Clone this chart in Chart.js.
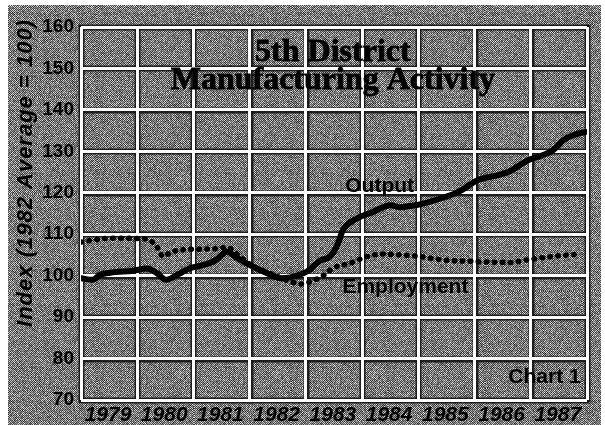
<!DOCTYPE html>
<html><head><meta charset="utf-8">
<script src="https://cdn.jsdelivr.net/npm/chart.js@4"></script>
<style>html,body{margin:0;padding:0;background:#fff}canvas{display:block}</style>
</head><body>
<canvas id="c" width="605" height="425"></canvas>
<script>
const yearLabels = ['1979','1980','1981','1982','1983','1984','1985','1986','1987'];
const yTicks = [70, 80, 90, 100, 110, 120, 130, 140, 150, 160];

const outputYears = [1979.00,1979.20,1979.34,1979.52,1979.93,1980.17,1980.35,1980.51,1980.71,1980.94,
  1981.15,1981.38,1981.60,1981.74,1981.86,1982.06,1982.31,1982.54,1982.72,1983.02,
  1983.25,1983.43,1983.56,1983.66,1983.91,1984.20,1984.50,1984.68,1984.85,1985.03,
  1985.44,1985.74,1986.05,1986.40,1986.63,1986.94,1987.22,1987.40,1987.58,1987.75,1987.97];
const outputValues = [99.4,99.0,100.2,100.7,101.2,101.7,100.6,99.0,100.2,101.8,
  102.5,103.6,105.8,104.6,103.6,102.2,100.6,99.4,99.6,101.0,
  103.6,104.6,107.4,111.0,113.8,115.4,117.0,116.5,116.8,117.2,
  118.8,120.4,123.0,124.2,125.2,127.8,129.1,130.3,132.7,133.9,134.7];

const employmentYears = [1979.00,1979.21,1979.52,1979.93,1980.17,1980.26,1980.35,1980.46,1980.58,1980.76,
  1981.12,1981.38,1981.60,1981.79,1982.06,1982.42,1982.72,1982.90,1983.07,1983.31,
  1983.48,1983.79,1984.09,1984.37,1984.68,1984.98,1985.44,1986.05,1986.63,1986.94,1987.35,1987.88];
const employmentValues = [108.1,108.6,109.0,109.0,108.8,108.2,107.0,104.6,105.5,106.2,
  106.4,106.5,106.8,105.0,102.2,100.2,98.6,98.0,98.5,100.0,
  101.8,103.0,104.6,105.2,105.0,104.7,103.8,103.4,103.2,103.8,104.6,105.2];

const titleLines = ['5th District', 'Manufacturing Activity'];
const yAxisTitle = 'Index (1982 Average = 100)';
const seriesLabels = ['Output', 'Employment'];
const chartNote = 'Chart 1';

function makeTexture() {
  const n = 97;
  const p = document.createElement('canvas'); p.width = n; p.height = n;
  const g = p.getContext('2d');
  const img = g.createImageData(n, n);
  for (let j = 0; j < n; j++) {
    for (let i = 0; i < n; i++) {
      let h = Math.sin(i * 12.9898 + j * 78.233) * 43758.5453;
      h = h - Math.floor(h);
      const dark = ((i + j) & 1) === 0;
      const v = dark ? 35 + h * 70 : 120 + h * 110;
      const k = (j * n + i) * 4;
      img.data[k] = img.data[k + 1] = img.data[k + 2] = v;
      img.data[k + 3] = 255;
    }
  }
  g.putImageData(img, 0, 0);
  return p;
}
const tex = makeTexture();

const decor = {
  id: 'decor',
  beforeDraw(chart) {
    const ctx = chart.ctx;
    ctx.save();
    ctx.fillStyle = '#fff';
    ctx.fillRect(0, 0, chart.width, chart.height);
    ctx.fillStyle = ctx.createPattern(tex, 'repeat');
    ctx.fillRect(8, 5, 593, 420);
    const xs = chart.scales.x, ys = chart.scales.y;
    const a = chart.chartArea;
    ctx.strokeStyle = 'rgba(20,20,20,0.9)';
    ctx.lineWidth = 6;
    for (let v = 1979; v <= 1988; v++) {
      const px = Math.round(xs.getPixelForValue(v)) + 0.5;
      ctx.beginPath(); ctx.moveTo(px, a.top - 2); ctx.lineTo(px, a.bottom + 2); ctx.stroke();
    }
    yTicks.forEach(v => {
      const py = Math.round(ys.getPixelForValue(v)) + 0.5;
      ctx.beginPath(); ctx.moveTo(a.left - 2, py); ctx.lineTo(a.right + 2, py); ctx.stroke();
    });
    ctx.restore();
  },
  afterDatasetsDraw(chart) {
    const ctx = chart.ctx;
    const xs = chart.scales.x, ys = chart.scales.y;
    ctx.save();
    ctx.fillStyle = '#000';
    ctx.strokeStyle = '#000';
    ctx.textBaseline = 'alphabetic';
    // title
    ctx.font = 'bold 32px "Liberation Serif", "Times New Roman", serif';
    ctx.textAlign = 'center';
    ctx.lineWidth = 0.8;
    const tx = xs.getPixelForValue(1983.48);
    [[titleLines[0], 151.7], [titleLines[1], 145.0]].forEach(([t, v]) => {
      ctx.fillText(t, tx, ys.getPixelForValue(v));
      ctx.strokeText(t, tx, ys.getPixelForValue(v));
    });
    // series labels
    ctx.font = 'bold 21px "Liberation Sans", Arial, sans-serif';
    ctx.textAlign = 'left';
    ctx.fillText(seriesLabels[0], xs.getPixelForValue(1983.70), ys.getPixelForValue(120.2));
    ctx.textAlign = 'center';
    ctx.fillText(seriesLabels[1], xs.getPixelForValue(1984.77), ys.getPixelForValue(95.8));
    ctx.textAlign = 'left';
    ctx.fillText(chartNote, xs.getPixelForValue(1986.6), ys.getPixelForValue(74.1));
    // y axis title
    ctx.translate(32, 173);
    ctx.rotate(-Math.PI / 2);
    ctx.font = 'italic bold 22px "Liberation Sans", Arial, sans-serif';
    ctx.letterSpacing = '1px';
    ctx.textAlign = 'center';
    ctx.fillText(yAxisTitle, 0, 0);
    ctx.restore();
  }
};

new Chart(document.getElementById('c'), {
  type: 'line',
  data: {
    datasets: [
      {
        label: seriesLabels[0],
        data: outputYears.map((x, i) => ({ x, y: outputValues[i] })),
        borderColor: '#000',
        borderWidth: 6,
        pointRadius: 0,
        cubicInterpolationMode: 'monotone',
        borderCapStyle: 'round',
        borderJoinStyle: 'round'
      },
      {
        label: seriesLabels[1],
        data: employmentYears.map((x, i) => ({ x, y: employmentValues[i] })),
        borderColor: '#000',
        borderWidth: 5.5,
        borderDash: [0.5, 7.5],
        borderCapStyle: 'round',
        pointRadius: 0,
        cubicInterpolationMode: 'monotone'
      }
    ]
  },
  options: {
    responsive: false,
    animation: false,
    devicePixelRatio: 1,
    layout: { padding: { left: 8, right: 18, top: 27, bottom: 0 } },
    plugins: { legend: { display: false }, tooltip: { enabled: false } },
    scales: {
      x: {
        type: 'linear', min: 1979, max: 1988,
        afterBuildTicks: s => { s.ticks = yearLabels.map(l => ({ value: +l })).concat([{ value: 1988 }]); },
        afterFit: s => { s.height = 25; },
        grid: { color: '#fff', lineWidth: 3, drawTicks: false },
        border: { display: false },
        ticks: {
          callback: (v) => { const i = yearLabels.indexOf(String(v)); return i >= 0 ? yearLabels[i] : ''; },
          labelOffset: 27, padding: 3, color: '#000', maxRotation: 0, autoSkip: false,
          font: { family: '"Liberation Sans", Arial, sans-serif', size: 21, weight: 'bold', style: 'italic' }
        }
      },
      y: {
        min: 70, max: 160,
        afterBuildTicks: s => { s.ticks = yTicks.map(v => ({ value: v })); },
        afterFit: s => { s.width = 73; },
        grid: { color: '#fff', lineWidth: 3, drawTicks: false },
        border: { display: false },
        ticks: {
          padding: 7, color: '#000',
          font: { family: '"Liberation Sans", Arial, sans-serif', size: 19, weight: 'bold' }
        }
      }
    }
  },
  plugins: [decor]
});
</script>
</body></html>
